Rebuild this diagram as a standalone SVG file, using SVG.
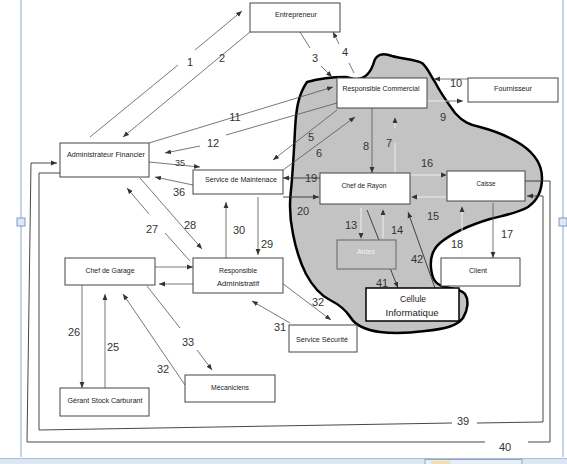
<svg xmlns="http://www.w3.org/2000/svg" width="567" height="464" viewBox="0 0 567 464">
<defs>
<marker id="a" viewBox="0 0 6 6" refX="6" refY="3" markerWidth="6" markerHeight="6" markerUnits="userSpaceOnUse" orient="auto"><path d="M0,0.6 L6,3 L0,5.4z" fill="#333"/></marker>
<style>
.box{fill:#fff;stroke:#444;stroke-width:1}
.t{font-family:"Liberation Sans",Arial,sans-serif;font-size:8px;fill:#222;text-anchor:middle}
.n{font-family:"Liberation Sans",Arial,sans-serif;font-size:11px;fill:#333;text-anchor:middle}
.c{fill:none;stroke:#555;stroke-width:0.8}
.l{fill:none;stroke:#f2f2f2;stroke-width:0.9}
.k{fill:none;stroke:#333;stroke-width:0.9}
.ar{marker-end:url(#a)}
</style>
</defs>
<rect width="567" height="464" fill="#fff"/>
<!-- selection frame -->
<g id="frame">
<line x1="21" y1="0" x2="21" y2="457" stroke="#8aa6cc" stroke-width="1"/>
<line x1="563" y1="0" x2="563" y2="457" stroke="#8aa6cc" stroke-width="1"/>
<rect x="17" y="218" width="8" height="8" fill="#dde8f5" stroke="#7c99c3" stroke-width="1"/>
<rect x="559" y="218" width="8" height="8" fill="#dde8f5" stroke="#7c99c3" stroke-width="1"/>
<rect x="0" y="459" width="567" height="5" fill="#dce6f2"/>
<line x1="0" y1="458.5" x2="567" y2="458.5" stroke="#a9bedb" stroke-width="1"/>
<rect x="425" y="459.5" width="97" height="6" fill="#e8eef7" stroke="#8fa6c6" stroke-width="1"/>
<rect x="431" y="460.5" width="19" height="4" fill="#f1dfb8"/>
</g>
<!-- blob -->
<path id="zone" d="M307,82 C318,79 330,77 345,77 C350,77 353,80 358,79 C366,78 371,72 374,62 C376,55 382,52 392,56 C402,59 415,59 422,63 C428,68 430,75 435,82 C440,92 447,102 455,113 C463,122 470,125 480,127 C495,131 510,137 522,145 C535,154 542,165 542,178 C542,190 538,200 528,207 C518,213 505,215 490,219 C470,225 452,233 440,243 C432,250 430,258 431,268 C432,277 434,283 442,286 C450,289 460,288 465,294 C469,300 468,310 463,318 C457,326 445,329 425,331 C410,333 395,334 380,332 C366,330 356,326 351,318 C346,310 340,305 330,300 C320,295 313,287 306,274 C300,262 296,250 293,234 C290,220 289,206 291,190 C293,170 294,150 295,130 C296,110 298,95 307,82 Z" fill="#c3c3c3" stroke="#000" stroke-width="2.5"/>
<!-- connectors -->
<g id="connectors">
<path class="c ar" d="M90,137 L178,65 M195,50 L242,11"/>
<path class="c ar" d="M250,32 L123,137"/>
<path class="c ar" d="M300,32 L310,48 M321,66 L332,77"/>
<path class="c ar" d="M354,73 L349,63 M339,44 L333,32"/>
<path class="c ar" d="M468,79 L434,79"/>
<path class="l" d="M427,101 L448,101"/>
<path class="c ar" d="M448,101 L463,101"/>
<path class="c ar" d="M149,143 L333,87"/>
<path class="c ar" d="M337,103 L226,135 M200,146 L165,153"/>
<path class="c ar" d="M337,110 L273,160"/>
<path class="c ar" d="M283,170 L355,117"/>
<path class="c ar" d="M372,108 L372,173"/>
<path class="l" d="M395,173 L395,143"/>
<path class="l ar" d="M395,128 L395,117"/>
<path class="l ar" d="M410,175 L447,175"/>
<path class="l ar" d="M447,197 L411,197"/>
<path class="k ar" d="M320,178 L283,178"/>
<path class="k ar" d="M283,197 L319,197"/>
<path class="l ar" d="M361,208 L361,239"/>
<path class="l ar" d="M383,238 L383,209"/>
<path class="k ar" d="M367,210 L398,288"/>
<path class="k ar" d="M435,288 L408,212"/>
<path class="c ar" d="M493,203 L493,258"/>
<path class="l ar" d="M462,258 L462,206"/>
<path class="c ar" d="M149,162 L200,167"/>
<path class="c ar" d="M193,185 L155,177"/>
<path class="c ar" d="M140,178 L202,249"/>
<path class="c ar" d="M190,261 L165,233 M149,214 L127,188"/>
<path class="c ar" d="M226,258 L226,202"/>
<path class="c ar" d="M258,197 L258,255"/>
<path class="c ar" d="M155,267 L193,267"/>
<path class="c ar" d="M193,284 L159,284"/>
<path class="c ar" d="M82,285 L82,388"/>
<path class="c ar" d="M105,388 L105,294"/>
<path class="c ar" d="M185,385 L123,294"/>
<path class="c ar" d="M147,286 L180,328 M197,350 L212,370"/>
<path class="c ar" d="M282,283 L331,320"/>
<path class="c ar" d="M290,323 L252,301"/>
<path class="k ar" d="M525,181 L550,181 L550,442 L528,442 M485,442 L27,442 L31,163 L57,163"/>
<path class="k ar" d="M60,173 L39,173 L39,430 L452,423 M477,423 L543,422 L543,196 L527,196"/>
</g>
<!-- labels -->
<g id="labels">
<text class="n" x="190" y="66">1</text>
<text class="n" x="222" y="62">2</text>
<text class="n" x="315" y="62">3</text>
<text class="n" x="345" y="56">4</text>
<text class="n" x="456" y="87">10</text>
<text class="n" x="443" y="121">9</text>
<text class="n" x="235" y="121">11</text>
<text class="n" x="213" y="147">12</text>
<text class="n" x="311" y="141">5</text>
<text class="n" x="319" y="157">6</text>
<text class="n" x="366" y="150">8</text>
<text class="n" x="389" y="147">7</text>
<text class="n" x="427" y="167">16</text>
<text class="n" x="433" y="220">15</text>
<text class="n" x="311" y="182">19</text>
<text class="n" x="303" y="215">20</text>
<text class="n" x="351" y="229">13</text>
<text class="n" x="397" y="234">14</text>
<text class="n" x="382" y="287">41</text>
<text class="n" x="417" y="263">42</text>
<text class="n" x="507" y="238">17</text>
<text class="n" x="457" y="248">18</text>
<text class="n" x="180" y="166" style="font-size:9px">35</text>
<text class="n" x="179" y="196">36</text>
<text class="n" x="190" y="229">28</text>
<text class="n" x="152" y="233">27</text>
<text class="n" x="239" y="234">30</text>
<text class="n" x="267" y="248">29</text>
<text class="n" x="74" y="336">26</text>
<text class="n" x="113" y="351">25</text>
<text class="n" x="163" y="373">32</text>
<text class="n" x="188" y="346">33</text>
<text class="n" x="318" y="306">32</text>
<text class="n" x="280" y="331">31</text>
<text class="n" x="463" y="425">39</text>
<text class="n" x="505" y="451">40</text>
</g>
<!-- nodes -->
<g id="entrepreneur"><rect class="box" x="250" y="3" width="90" height="29"/><text class="t" x="296" y="17" textLength="42" lengthAdjust="spacingAndGlyphs">Entrepreneur</text></g>
<g id="resp-commercial"><rect class="box" x="337" y="78" width="90" height="30"/><text class="t" x="381" y="91" textLength="77" lengthAdjust="spacingAndGlyphs">Responsible Commercial</text></g>
<g id="fournisseur"><rect class="box" x="468" y="78" width="90" height="24"/><text class="t" x="513" y="91" textLength="38" lengthAdjust="spacingAndGlyphs">Fournisseur</text></g>
<g id="admin-financier"><rect class="box" x="60" y="143" width="89" height="34"/><text class="t" x="106" y="157" textLength="78" lengthAdjust="spacingAndGlyphs">Administrateur Financier</text></g>
<g id="service-maintenance"><rect class="box" x="193" y="170" width="90" height="24"/><text class="t" x="241" y="182" textLength="72" lengthAdjust="spacingAndGlyphs">Service de Maintenace</text></g>
<g id="chef-rayon"><rect class="box" x="320" y="173" width="90" height="31"/><text class="t" x="364" y="188" textLength="45" lengthAdjust="spacingAndGlyphs">Chef de Rayon</text></g>
<g id="caisse"><rect class="box" x="447" y="171" width="78" height="30"/><text class="t" x="486" y="186" textLength="19" lengthAdjust="spacingAndGlyphs">Caisse</text></g>
<g id="aides"><rect x="337" y="240" width="59" height="29" fill="#c3c3c3" stroke="#666" stroke-width="1"/><text class="t" x="366" y="254" textLength="18" lengthAdjust="spacingAndGlyphs" style="fill:#f4f4f4">Aides</text></g>
<g id="client"><rect class="box" x="441" y="258" width="79" height="28"/><text class="t" x="478" y="273" textLength="18" lengthAdjust="spacingAndGlyphs">Client</text></g>
<g id="cellule-informatique"><rect x="366" y="288" width="93" height="33" fill="#fff" stroke="#000" stroke-width="1.5"/><text class="t" x="413" y="302" textLength="26" lengthAdjust="spacingAndGlyphs" style="font-size:9px">Cellule</text><text class="t" x="412" y="316" textLength="53" lengthAdjust="spacingAndGlyphs" style="font-size:9px">Informatique</text></g>
<g id="chef-garage"><rect class="box" x="65" y="258" width="90" height="27"/><text class="t" x="110" y="273" textLength="49" lengthAdjust="spacingAndGlyphs">Chef de Garage</text></g>
<g id="resp-administratif"><rect class="box" x="193" y="258" width="90" height="35"/><text class="t" x="238" y="273" textLength="38" lengthAdjust="spacingAndGlyphs">Responsible</text><text class="t" x="238" y="286" textLength="42" lengthAdjust="spacingAndGlyphs">Administratif</text></g>
<g id="service-securite"><rect class="box" x="289" y="325" width="68" height="27"/><text class="t" x="322" y="342" textLength="52" lengthAdjust="spacingAndGlyphs">Service Sécurité</text></g>
<g id="mecaniciens"><rect class="box" x="185" y="375" width="90" height="27"/><text class="t" x="230" y="390" textLength="38" lengthAdjust="spacingAndGlyphs">Mécaniciens</text></g>
<g id="gerant-stock"><rect class="box" x="60" y="388" width="89" height="28"/><text class="t" x="105" y="403" textLength="75" lengthAdjust="spacingAndGlyphs">Gérant Stock Carburant</text></g>
</svg>
